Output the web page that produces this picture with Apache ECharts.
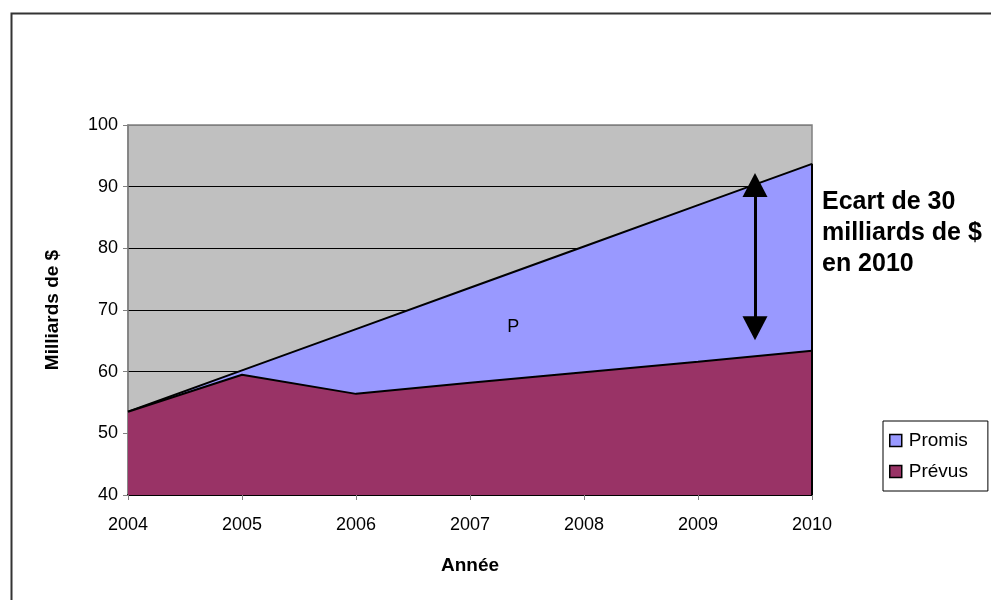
<!DOCTYPE html>
<html><head><meta charset="utf-8">
<script src="https://cdn.jsdelivr.net/npm/echarts@6/dist/echarts.min.js"></script>
<style>html,body{margin:0;padding:0;background:#fff}#c{width:991px;height:600px}</style>
</head><body><div id="c"></div>
<script>
const years = [2004, 2005, 2006, 2007, 2008, 2009, 2010];
const promis = [53.5, 60.2, 66.9, 73.6, 80.3, 87.0, 93.7];
const prevus = [53.5, 59.5, 56.4, 58.2, 59.9, 61.6, 63.4];
const yTicks = [40, 50, 60, 70, 80, 90, 100];
const gapArrow = { x: 2009.5, top: 92.2, bottom: 65.1 };
const labelP = { x: 2007.38, y: 67.2, text: 'P' };

const chart = echarts.init(document.getElementById('c'));
const F = 'Liberation Sans, Arial, sans-serif';
const pairs = arr => years.map((y, i) => [y, arr[i]]);
const last = years.length - 1;
const plotH = 370, headPx = 24;
const headUnits = (headPx / 2) * (yTicks[yTicks.length - 1] - yTicks[0]) / plotH;

chart.setOption({
  animation: false,
  backgroundColor: '#fff',
  grid: { left: 128, top: 125, right: 179, bottom: 105, show: true, backgroundColor: '#C0C0C0', borderColor: '#808080', borderWidth: 1.5 },
  xAxis: {
    type: 'value', min: 2004, max: 2010, interval: 1,
    name: 'Année', nameLocation: 'middle', nameGap: 61,
    nameTextStyle: { fontFamily: F, fontWeight: 'bold', fontSize: 19, color: '#000' },
    axisLine: { lineStyle: { color: '#000', width: 2 } },
    axisTick: { show: true, length: 5, lineStyle: { color: '#808080' } },
    axisLabel: { fontFamily: F, fontSize: 18, color: '#000', margin: 21, formatter: v => String(v) },
    splitLine: { show: false }
  },
  yAxis: {
    type: 'value', min: yTicks[0], max: yTicks[yTicks.length - 1], interval: 10,
    name: 'Milliards de $', nameLocation: 'middle', nameGap: 66, nameRotate: 90,
    nameTextStyle: { fontFamily: F, fontWeight: 'bold', fontSize: 19, color: '#000' },
    axisLine: { show: true, lineStyle: { color: '#808080', width: 1.5 } },
    axisTick: { show: true, length: 5, lineStyle: { color: '#808080' } },
    axisLabel: { fontFamily: F, fontSize: 18, color: '#000', margin: 10 },
    splitLine: { show: true, lineStyle: { color: ['#000', '#000', '#000', '#000', '#000', '#000', '#808080'], width: 1 } }
  },
  legend: {
    orient: 'vertical', left: 883, top: 421,
    data: ['Promis', 'Prévus'],
    icon: 'rect', itemWidth: 12, itemHeight: 12, itemGap: 12,
    padding: [10, 20, 10, 6],
    borderColor: '#000', borderWidth: 1,
    textStyle: { fontFamily: F, fontSize: 19, color: '#000', padding: [0, 0, 0, 2] },
    itemStyle: { borderColor: '#000', borderWidth: 1.5 }
  },
  series: [
    {
      name: 'Promis', type: 'line', data: pairs(promis), symbol: 'none',
      lineStyle: { color: '#000', width: 2 },
      itemStyle: { color: '#9999FF' },
      areaStyle: { color: '#9999FF', opacity: 1, origin: 'start' },
      z: 2,
      markLine: {
        silent: true, symbol: ['none', 'none'], label: { show: false },
        lineStyle: { color: '#000', width: 2, type: 'solid' },
        data: [[{ coord: [years[last], yTicks[0]] }, { coord: [years[last], promis[last]] }]]
      },
      markPoint: {
        silent: true, symbol: 'circle', symbolSize: 0,
        label: { show: true, position: 'inside', formatter: labelP.text, fontFamily: F, fontSize: 18, color: '#000' },
        itemStyle: { color: 'transparent' },
        data: [{ coord: [labelP.x, labelP.y] }]
      }
    },
    {
      name: 'Prévus', type: 'line', data: pairs(prevus), symbol: 'none',
      lineStyle: { color: '#000', width: 2 },
      itemStyle: { color: '#993366' },
      areaStyle: { color: '#993366', opacity: 1, origin: 'start' },
      z: 3,
      markLine: {
        silent: true, symbol: ['triangle', 'triangle'], symbolSize: [25, headPx], label: { show: false },
        lineStyle: { color: '#000', width: 3, type: 'solid' },
        data: [[{ coord: [gapArrow.x, gapArrow.top - headUnits] }, { coord: [gapArrow.x, gapArrow.bottom + headUnits] }]]
      }
    }
  ],
  graphic: [
    { type: 'rect', left: 9, top: 11, shape: { width: 1000, height: 620 }, style: { fill: 'none', stroke: '#333', lineWidth: 2 }, silent: true },
    { type: 'text', left: 822, top: 187, style: { text: 'Ecart de 30\nmilliards de $\nen 2010', font: 'bold 25px Liberation Sans, Arial, sans-serif', fill: '#000', lineHeight: 31 } }
  ]
});
</script></body></html>
